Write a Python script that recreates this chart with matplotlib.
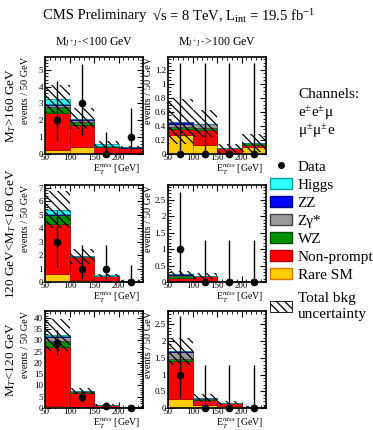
import numpy as np
import matplotlib
matplotlib.use('Agg')
import matplotlib.pyplot as plt
from matplotlib.patches import Patch
from matplotlib.lines import Line2D
from matplotlib.ticker import MultipleLocator, FuncFormatter

plt.rcParams['font.family'] = ['Liberation Serif', 'DejaVu Serif']
plt.rcParams['mathtext.fontset'] = 'custom'
plt.rcParams['mathtext.rm'] = 'Liberation Serif'
plt.rcParams['mathtext.it'] = 'Liberation Serif:italic'
plt.rcParams['hatch.linewidth'] = 0.9

# MET bins (GeV)
bin_edges = np.array([50, 100, 150, 200, 250])

# panel order: (MT>160, Mll<100), (MT>160, Mll>100), (120<MT<160, Mll<100),
#              (120<MT<160, Mll>100), (MT<120, Mll<100), (MT<120, Mll>100)
rare_sm = [[0.22, 0.42, 0.08, 0.06],
           [0.27, 0.13, 0.01, 0.10],
           [0.58, 0.15, 0.05, 0.02],
           [0.04, 0.02, 0.01, 0.00],
           [1.00, 0.30, 0.10, 0.10],
           [0.26, 0.10, 0.05, 0.02]]
nonprompt = [[2.19, 1.30, 0.33, 0.27],
             [0.09, 0.21, 0.07, 0.03],
             [3.69, 1.71, 0.40, 0.08],
             [0.08, 0.15, 0.01, 0.01],
             [25.9, 6.50, 1.10, 0.40],
             [1.15, 0.13, 0.10, 0.02]]
wz = [[0.39, 0.20, 0.04, 0.03],
      [0.03, 0.03, 0.00, 0.03],
      [0.67, 0.03, 0.02, 0.01],
      [0.07, 0.01, 0.00, 0.00],
      [2.80, 0.50, 0.05, 0.02],
      [0.05, 0.04, 0.00, 0.00]]
zgamma = [[0.10, 0.08, 0.01, 0.02],
          [0.04, 0.05, 0.00, 0.00],
          [0.06, 0.01, 0.01, 0.00],
          [0.02, 0.00, 0.00, 0.00],
          [1.60, 0.10, 0.02, 0.00],
          [0.20, 0.02, 0.00, 0.00]]
zz = [[0.07, 0.07, 0.01, 0.01],
      [0.03, 0.01, 0.00, 0.00],
      [0.05, 0.01, 0.00, 0.00],
      [0.04, 0.00, 0.00, 0.00],
      [0.60, 0.10, 0.02, 0.00],
      [0.04, 0.01, 0.00, 0.00]]
higgs = [[0.29, 0.03, 0.12, 0.01],
         [0.00, 0.00, 0.00, 0.00],
         [0.33, 0.00, 0.02, 0.00],
         [0.00, 0.00, 0.00, 0.00],
         [0.40, 0.00, 0.00, 0.00],
         [0.00, 0.00, 0.00, 0.00]]
bkg_unc = [[0.85, 0.60, 0.20, 0.08],
           [0.32, 0.19, 0.06, 0.13],
           [1.40, 0.55, 0.10, 0.03],
           [0.08, 0.10, 0.02, 0.01],
           [7.00, 1.50, 0.30, 0.10],
           [0.40, 0.12, 0.05, 0.01]]
data = [[2, 3, 0, 1],
        [0, 0, 0, 0],
        [3, 1, 1, 0],
        [1, 0, 0, 0],
        [29, 5, 1, 0],
        [1, 0, 0, 0]]
data_lo = [[0.75, 1.10, 0.0, 0.2],
           [0.0, 0.0, 0.0, 0.0],
           [1.10, 0.2, 0.2, 0.0],
           [0.2, 0.0, 0.0, 0.0],
           [23.6, 2.8, 0.2, 0.0],
           [0.3, 0.0, 0.0, 0.0]]
data_hi = [[4.30, 5.35, 1.29, 2.75],
           [1.29, 1.29, 1.29, 1.29],
           [5.35, 2.75, 2.75, 1.29],
           [2.75, 1.29, 1.29, 1.29],
           [34.5, 7.6, 2.75, 1.29],
           [2.75, 1.29, 1.29, 1.29]]

y_max = [5.75, 1.38, 7.2, 2.95, 43, 2.9]
y_major = [1, 0.2, 1, 0.5, 5, 0.5]
y_minor = [0.2, 0.05, 0.2, 0.1, 1, 0.1]

col_titles = [r'M$_{l^+l^-}$<100 GeV', r'M$_{l^+l^-}$>100 GeV']
row_titles = [r'M$_T$>160 GeV', r'120 GeV<M$_T$<160 GeV', r'M$_T$<120 GeV']
channels = ['Channels:', 'e$^{\\pm}$e$^{\\pm}$\u03bc', '\u03bc$^{\\pm}$\u03bc$^{\\pm}$e']

components = [
    ('Rare SM', rare_sm, '#ffcc00', '#e07000'),
    ('Non-prompt', nonprompt, '#ff0000', '#b00000'),
    ('WZ', wz, '#009000', '#005000'),
    ('Z\u03b3*', zgamma, '#999999', '#444444'),
    ('ZZ', zz, '#0000ff', '#000080'),
    ('Higgs', higgs, '#33ffff', '#00a0a0'),
]

W, H = 373, 430
fig = plt.figure(figsize=(W / 100, H / 100), dpi=100)

col_left = [45, 168]
row_top = [57, 185, 311]
ax_w, ax_h = 98, 97

hatch = '\\\\\\\\'
widths = np.diff(bin_edges)
centers = bin_edges[:-1] + widths / 2

for i in range(6):
    r, c = divmod(i, 2)
    ax = fig.add_axes([col_left[c] / W, 1 - (row_top[r] + ax_h) / H, ax_w / W, ax_h / H])
    bottom = np.zeros(4)
    for name, vals, fc, ec in components:
        v = np.array(vals[i])
        ax.bar(bin_edges[:-1], v, width=widths, bottom=bottom, align='edge',
               color=fc, edgecolor=ec, linewidth=0.6, zorder=2)
        bottom = bottom + v
    unc = np.array(bkg_unc[i])
    ax.bar(bin_edges[:-1], 2 * unc, width=widths, bottom=bottom - unc, align='edge',
           fill=False, hatch=hatch, edgecolor='k', linewidth=0, zorder=3)
    d = np.array(data[i], dtype=float)
    lo = d - np.array(data_lo[i])
    hi = np.array(data_hi[i]) - d
    ax.errorbar(centers, d, yerr=[lo, hi], fmt='o', color='k', ms=4.5,
                elinewidth=1.0, capsize=0, zorder=5, clip_on=False)

    ax.set_xlim(50, 250)
    ax.set_ylim(0, y_max[i])
    ax.set_xticks([50, 100, 150, 200])
    ax.xaxis.set_minor_locator(MultipleLocator(10))
    ax.yaxis.set_major_locator(MultipleLocator(y_major[i]))
    ax.yaxis.set_minor_locator(MultipleLocator(y_minor[i]))
    ax.yaxis.set_major_formatter(FuncFormatter(lambda v, p: f'{v:g}'))
    ax.tick_params(which='both', direction='in', top=True, right=True,
                   labelsize=6.5, pad=1.5)
    ax.tick_params(axis='x', pad=0.3)
    ax.tick_params(which='major', length=4, width=0.8)
    ax.tick_params(which='minor', length=2, width=0.6)
    for s in ax.spines.values():
        s.set_linewidth(1.2)
        s.set_zorder(6)
    ax.set_ylabel('events / 50 GeV', fontsize=7.5, loc='top')
    ax.yaxis.set_label_coords(-0.15, 1.0)
    ax.set_xlabel(r'E$_T^{miss}$ [GeV]', fontsize=7, loc='right', va='top')
    ax.xaxis.set_label_coords(0.97, -0.085)

for c in range(2):
    fig.text((col_left[c] + ax_w / 2) / W, 1 - 42 / H, col_titles[c],
             ha='center', va='center', fontsize=8.5)
for r in range(3):
    fig.text(11 / W, 1 - (row_top[r] + ax_h / 2) / H, row_titles[r],
             rotation=90, ha='center', va='center', fontsize=9.5)

fig.text(43 / W, 1 - 15 / H, 'CMS Preliminary', ha='left', va='center', fontsize=10.5)
fig.text(152 / W, 1 - 15 / H, '\u221as = 8 TeV, L$_{\\rm int}$ = 19.5 fb$^{-1}$',
         ha='left', va='center', fontsize=10.5)

for k, line in enumerate(channels):
    fig.text(298 / W, 1 - (95 + 18 * k) / H, line, ha='left', va='center', fontsize=11)

handles = [Line2D([], [], marker='o', color='k', ls='none', ms=4)]
labels = ['Data']
for name, vals, fc, ec in reversed(components):
    handles.append(Patch(facecolor=fc, edgecolor=ec, linewidth=1))
    labels.append(name)
leg_style = dict(frameon=False, fontsize=11, handlelength=1.45, handleheight=0.75,
                 handletextpad=0.35, labelspacing=0.27, borderaxespad=0, borderpad=0,
                 loc='upper left')
fig.legend(handles, labels, bbox_to_anchor=(270 / W, 1 - 160 / H), **leg_style)
unc_leg = fig.legend([Patch(facecolor='white', edgecolor='k', hatch=hatch, linewidth=0.6)],
                     ['Total bkg\nuncertainty'], bbox_to_anchor=(270 / W, 1 - 292 / H),
                     **leg_style)
unc_leg.get_texts()[0].set_linespacing(1.3)

fig.savefig('out.png', dpi=100)
